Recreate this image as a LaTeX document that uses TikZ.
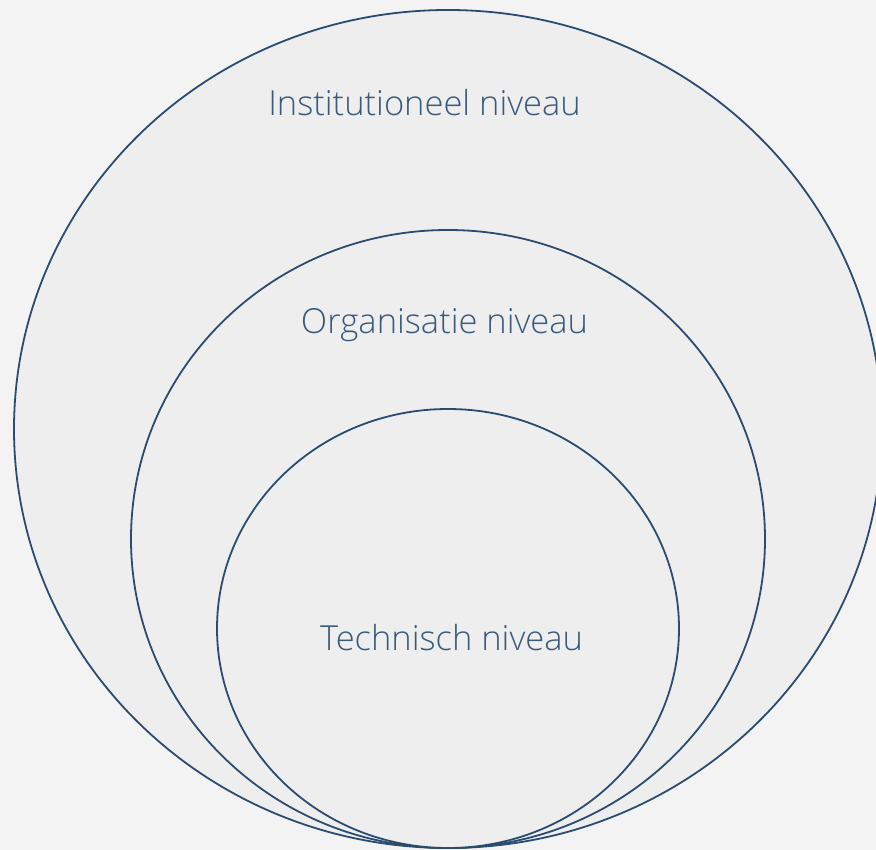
\documentclass[tikz,border=0pt]{standalone}
\usepackage{fontspec}
\setmainfont{Open Sans Light}
\definecolor{bgc}{HTML}{F3F3F3}
\definecolor{fillc}{HTML}{EEEEEE}
\definecolor{linec}{HTML}{2B4C70}
\definecolor{textc}{HTML}{3A5A7C}
\begin{document}
\begin{tikzpicture}[x=1pt,y=1pt,
  level/.style={draw=linec,line width=1.8pt,fill=fillc},
  lbl/.style={text=textc,font=\fontsize{34.5}{40}\selectfont,anchor=base,inner sep=0pt}]
\useasboundingbox (0,0) rectangle (876,-850);
\fill[bgc] (0,0) rectangle (876,-850);
\begin{scope}
\clip (0,0) rectangle (876,-850);
\draw[level] (448,-429) ellipse [x radius=434, y radius=419];
\draw[level] (448,-539) ellipse [x radius=317, y radius=309];
\draw[level] (448,-628.5) ellipse [x radius=231, y radius=219.5];
\end{scope}
\node[lbl] (inst) at (424.5,-116) {Institutioneel niveau};
\node[lbl] (org) at (444.5,-334) {Organisatie niveau};
\node[lbl] (tech) at (451.5,-650) {Technisch niveau};
\end{tikzpicture}
\end{document}
